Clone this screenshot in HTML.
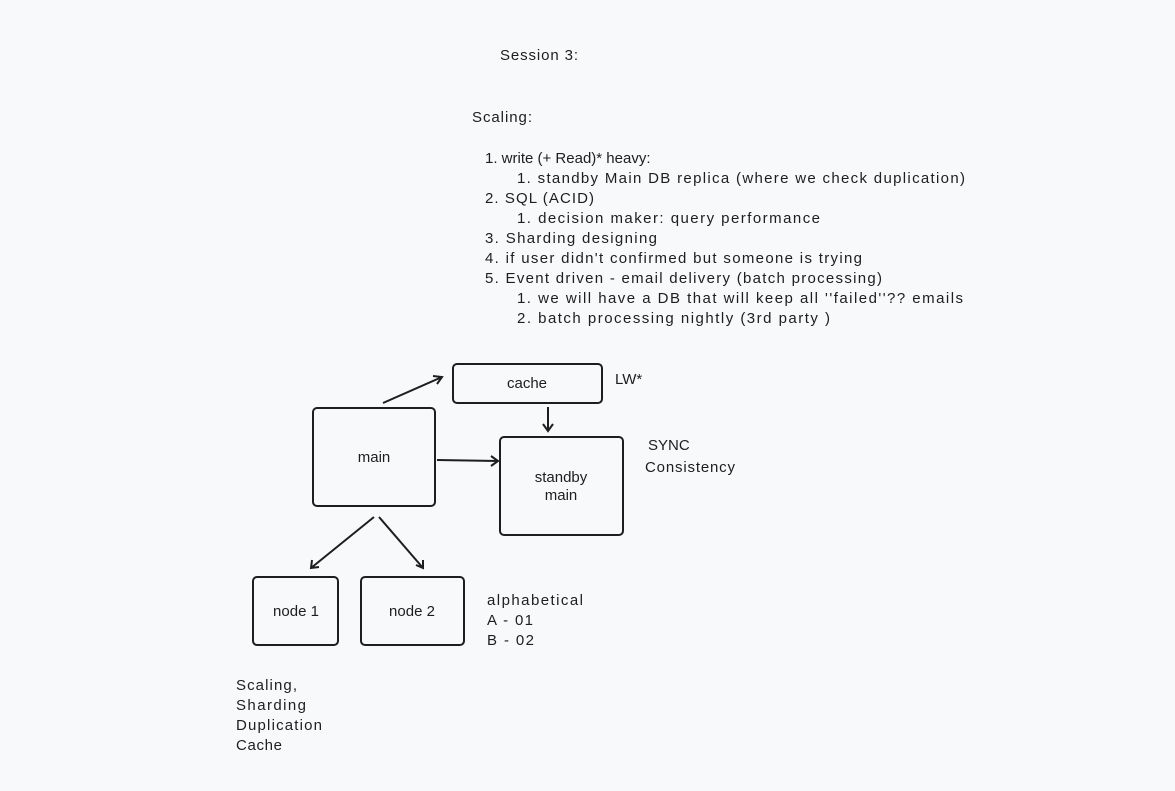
<!DOCTYPE html>
<html><head><style>
html,body{margin:0;padding:0;background:#f8f9fb;}
svg{display:block;}
text{font-family:"Liberation Sans",sans-serif;fill:#1e1e1e;font-size:15px;}
</style></head><body>
<svg width="1175" height="791" viewBox="0 0 1175 791" xmlns="http://www.w3.org/2000/svg">
<rect width="1175" height="791" fill="#f8f9fb"/>
<text x="500" y="60" textLength="78">Session 3:</text>
<text x="472" y="122" textLength="60">Scaling:</text>
<text x="485" y="163">1.  write (+ Read)* heavy:</text>
<text x="517" y="183" textLength="448">1. standby Main DB replica (where we check duplication)</text>
<text x="485" y="203" textLength="109">2.  SQL (ACID)</text>
<text x="517" y="223" textLength="303">1.  decision maker: query performance</text>
<text x="485" y="243" textLength="172">3. Sharding designing</text>
<text x="485" y="263" textLength="377">4. if user didn't confirmed but someone is trying</text>
<text x="485" y="283" textLength="397">5. Event driven - email delivery (batch processing)</text>
<text x="517" y="303" textLength="446">1.  we will have a DB that will keep all ''failed''?? emails</text>
<text x="517" y="323" textLength="313">2. batch processing nightly (3rd party )</text>
<g fill="none" stroke="#1e1e1e" stroke-width="2">
<rect x="453" y="364" width="149" height="39" rx="4"/>
<rect x="313" y="408" width="122" height="98" rx="4"/>
<rect x="500" y="437" width="123" height="98" rx="4"/>
<rect x="253" y="577" width="85" height="68" rx="4"/>
<rect x="361" y="577" width="103" height="68" rx="4"/>
<path d="M383 403 L442 377 M433 376 L442 377 L437 384"/>
<path d="M548 407 L548 430 M543 424 L548 431 L553 424"/>
<path d="M437 460 L498 461 M491 456 L498 461 L491 466"/>
<path d="M374 517 L311 568 M312 560 L311 568 L319 567"/>
<path d="M379 517 L423 568 M423 560 L423 568 L416 565"/>
</g>
<text x="527" y="388" text-anchor="middle" font-size="14">cache</text>
<text x="374" y="462" text-anchor="middle" font-size="14">main</text>
<text x="561" y="482" text-anchor="middle" font-size="14">standby</text>
<text x="561" y="500" text-anchor="middle" font-size="14">main</text>
<text x="296" y="616" text-anchor="middle" font-size="14">node 1</text>
<text x="412" y="616" text-anchor="middle" font-size="14">node 2</text>
<text x="615" y="384">LW*</text>
<text x="648" y="450">SYNC</text>
<text x="645" y="472" textLength="90">Consistency</text>
<text x="487" y="605" textLength="96">alphabetical</text>
<text x="487" y="625" textLength="46">A - 01</text>
<text x="487" y="645" textLength="47">B - 02</text>
<text x="236" y="690" textLength="61">Scaling,</text>
<text x="236" y="710" textLength="70">Sharding</text>
<text x="236" y="730" textLength="86">Duplication</text>
<text x="236" y="750" textLength="46">Cache</text>
</svg>
</body></html>
